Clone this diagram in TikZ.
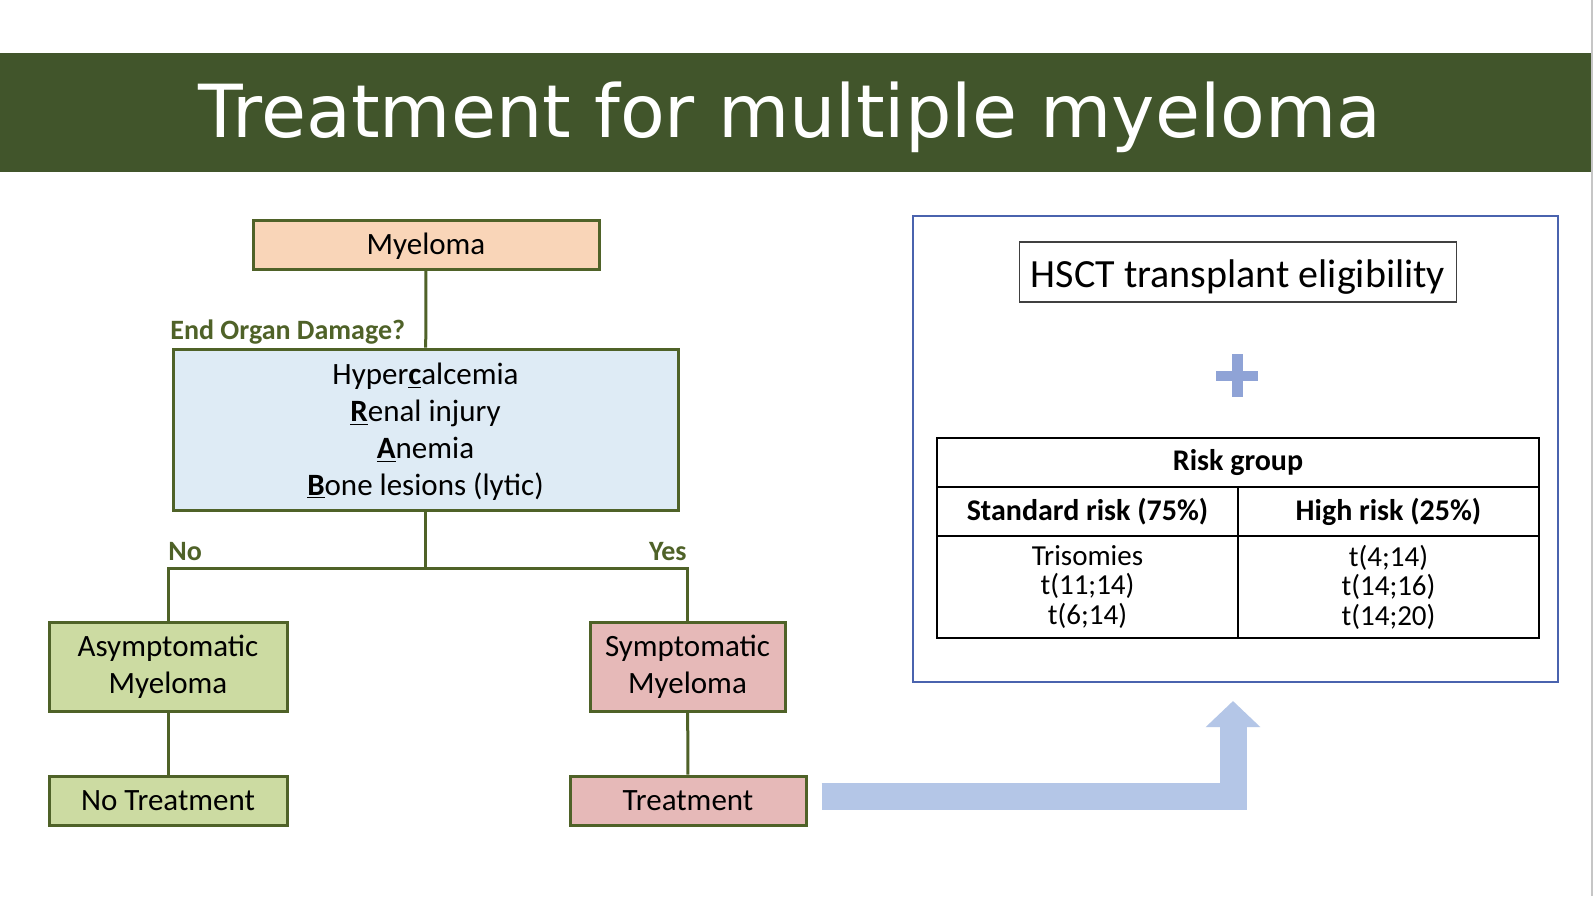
\documentclass[tikz,border=0pt]{standalone}
\usepackage{fontspec}
\setmainfont{Carlito}
\newfontfamily\titlefont{DejaVu Sans}
\usetikzlibrary{arrows.meta,calc}
\definecolor{bandgreen}{HTML}{41552B}
\definecolor{oliveline}{HTML}{4F6228}
\definecolor{peachfill}{HTML}{F9D5B8}
\definecolor{bluefill}{HTML}{DEEBF5}
\definecolor{greenfill}{HTML}{CCDBA2}
\definecolor{pinkfill}{HTML}{E6B9B8}
\definecolor{panelblue}{HTML}{4A63AE}
\definecolor{arrowblue}{HTML}{B4C6E7}
\definecolor{plusblue}{HTML}{8FA3D6}
\tikzset{
  box/.style={draw=oliveline, line width=1.5pt, inner sep=0pt, align=center,
    font=\fontsize{15.5}{18.4}\selectfont},
  lbl/.style={text=oliveline, inner sep=0pt, font=\bfseries\fontsize{14}{16}\selectfont},
  flow/.style={draw=oliveline, line width=1.5pt},
  cell/.style={draw=black, line width=1pt, inner sep=0pt, align=center},
  hdr/.style={cell, font=\bfseries\fontsize{15}{17}\selectfont},
  dat/.style={cell, font=\fontsize{14.5}{14.75}\selectfont},
  bigarrow/.style={draw=arrowblue, line width=13.5pt,
    -{Triangle[width=26.5pt 0, length=13pt 0]}}
}
\newcommand{\lowertext}[2]{\raisebox{#1}[\height][\depth]{#2}}
\begin{document}
\begin{tikzpicture}[x=0.5pt,y=-0.5pt]
\useasboundingbox (0,0) rectangle (1594,896);
\fill[white] (0,0) rectangle (1594,896);
% title band
\fill[bandgreen] (0,53) rectangle (1592,172);
\draw[gray!45, line width=0.6pt] (1592,0) -- (1592,896);
\node[anchor=base, text=white, inner sep=0pt,
  font=\titlefont\fontsize{36.6}{44}\selectfont] (title) at (790,137)
  {Treatment for multiple myeloma};

% flowchart
\node[box, fill=peachfill, minimum width=173pt, minimum height=24.5pt] (mye) at (426,244.5) {\lowertext{-1pt}{Myeloma}};
\node[box, fill=bluefill, minimum width=252.5pt, minimum height=80.5pt] (organ) at (425.5,429.5)
  {\lowertext{-1.5pt}{\begin{tabular}{@{}c@{}}Hyper\underline{\textbf{c}}alcemia\\ \underline{\textbf{R}}enal injury\\ \underline{\textbf{A}}nemia\\ \underline{\textbf{B}}one lesions (lytic)\end{tabular}}};
\node[lbl, anchor=base west] (eod) at (170,339) {End Organ Damage?};
\node[box, fill=greenfill, minimum width=119pt, minimum height=44.5pt] (asym) at (168,666.5) {Asymptomatic\\Myeloma};
\node[box, fill=pinkfill, minimum width=97.5pt, minimum height=44.5pt] (symp) at (687.5,666.5) {Symptomatic\\Myeloma};
\node[box, fill=greenfill, minimum width=119pt, minimum height=24.5pt] (notreat) at (168,800.5) {No Treatment};
\node[box, fill=pinkfill, minimum width=118pt, minimum height=24.5pt] (treat) at (688,800.5) {Treatment};
\node[lbl, anchor=base west] (nolbl) at (168,560) {No};
\node[lbl, anchor=base east] (yeslbl) at (687,560) {Yes};

\draw[flow] (mye) -- (organ);
\draw[flow] (organ.south) -- ++(0,57) coordinate (split);
\draw[flow] (split) -| (asym.north);
\draw[flow] (split) -| (symp.north);
\draw[flow] (asym) -- (notreat);
\draw[flow] (symp) -- (treat);

% right panel
\node[draw=panelblue, line width=1pt, minimum width=322.5pt, minimum height=233pt, inner sep=0pt] (panel) at (1235.5,449) {};
\node[draw=black!75, line width=0.7pt, minimum width=218.5pt, minimum height=30pt, inner sep=0pt,
  font=\fontsize{20}{24}\selectfont] (hsct) at (1238,272) {\lowertext{-2.5pt}{HSCT transplant eligibility}};
\fill[plusblue] (1216,371) rectangle (1258,381);
\fill[plusblue] (1232,354) rectangle (1243,397);

\node[hdr, minimum width=301pt, minimum height=24.5pt] (risk) at (1238,462.5) {Risk group};
\node[hdr, minimum width=150.5pt, minimum height=24.5pt] (stdh) at (1087.5,511.5) {Standard risk (75\%)};
\node[hdr, minimum width=150.5pt, minimum height=24.5pt] (highh) at (1388.5,511.5) {High risk (25\%)};
\node[dat, minimum width=150.5pt, minimum height=51pt] (stdd) at (1087.5,587) {Trisomies\\t(11;14)\\t(6;14)};
\node[dat, minimum width=150.5pt, minimum height=51pt] (highd) at (1388.5,587) {t(4;14)\\t(14;16)\\t(14;20)};

% big arrow
\coordinate (tip) at (1233,701);
\draw[bigarrow] ($(treat.east)+(14,-4.5)$) -| (tip);
\end{tikzpicture}
\end{document}
